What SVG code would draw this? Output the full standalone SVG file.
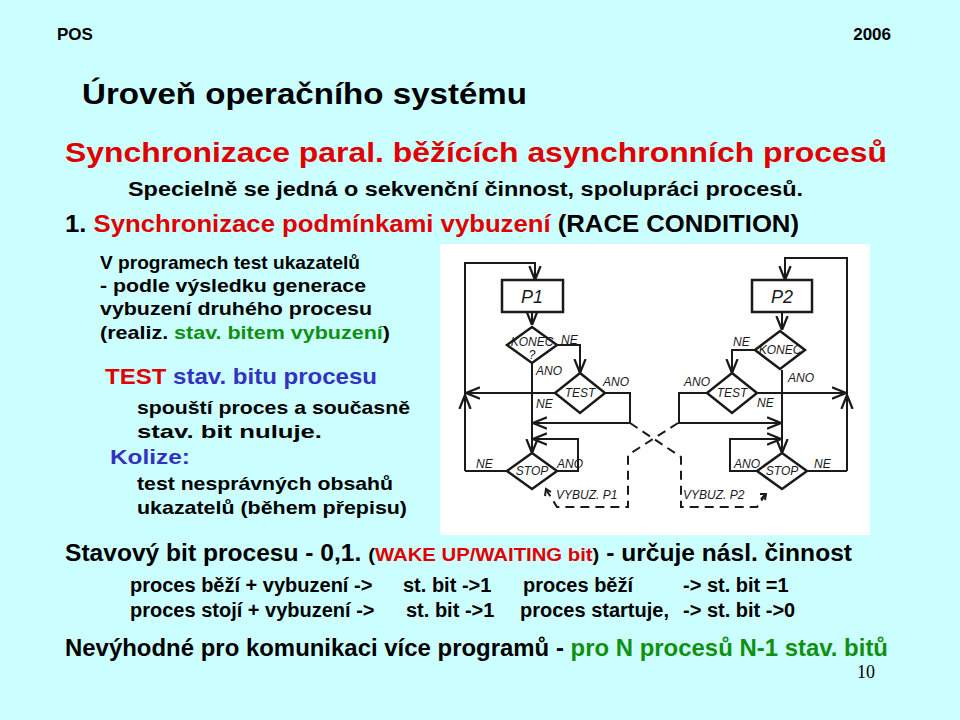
<svg xmlns="http://www.w3.org/2000/svg" width="960" height="720" viewBox="0 0 960 720">
<defs>
<style>
.t{font-family:"Liberation Sans",Arial,sans-serif;fill:#000;font-weight:bold}
.r{fill:#e00000}
.g{fill:#109010}
.bl{fill:#3333c0}
.ln{fill:none;stroke:#1a1a1a;stroke-width:2}
.ds{fill:none;stroke:#1a1a1a;stroke-width:2;stroke-dasharray:9,6}
.sh{fill:#fff;stroke:#1a1a1a;stroke-width:2.5}
.lb{font-family:"Liberation Sans",Arial,sans-serif;font-style:italic;font-size:12px;fill:#1a1a1a}
.nm{font-family:"Liberation Sans",Arial,sans-serif;font-style:italic;font-size:18px;fill:#1a1a1a}
</style>
<marker id="a" viewBox="0 0 10 10" refX="10" refY="5" markerWidth="7" markerHeight="7" orient="auto"><path d="M0,1 L10,5 L0,9" fill="none" stroke="#1a1a1a" stroke-width="1.6"/></marker>
</defs>
<rect width="960" height="720" fill="#ccffff"/>
<text class="t" x="57" y="40" font-size="17">POS</text>
<text class="t" x="891" y="40" font-size="17" text-anchor="end">2006</text>
<text class="t" x="82" y="104" font-size="30" textLength="445" lengthAdjust="spacingAndGlyphs">Úroveň operačního systému</text>
<text class="t r" x="65" y="162" font-size="28" textLength="822" lengthAdjust="spacingAndGlyphs">Synchronizace paral. běžících asynchronních procesů</text>
<text class="t" x="128" y="196" font-size="20" textLength="675" lengthAdjust="spacingAndGlyphs">Specielně se jedná o sekvenční činnost, spolupráci procesů.</text>
<text class="t" x="65" y="232" font-size="24" textLength="734" lengthAdjust="spacingAndGlyphs">1. <tspan class="r">Synchronizace podmínkami vybuzení</tspan> (RACE CONDITION)</text>
<g font-size="19">
<text class="t" x="100" y="269" textLength="260" lengthAdjust="spacingAndGlyphs">V programech test ukazatelů</text>
<text class="t" x="100" y="292" textLength="266" lengthAdjust="spacingAndGlyphs">- podle výsledku generace</text>
<text class="t" x="100" y="315" textLength="272" lengthAdjust="spacingAndGlyphs">vybuzení druhého procesu</text>
<text class="t" x="100" y="339" textLength="290" lengthAdjust="spacingAndGlyphs">(realiz. <tspan class="g">stav. bitem vybuzení</tspan>)</text>
</g>
<text class="t" x="105" y="384" font-size="22" textLength="272" lengthAdjust="spacingAndGlyphs"><tspan class="r">TEST</tspan> <tspan class="bl">stav. bitu procesu</tspan></text>
<text class="t" x="137" y="414" font-size="19" textLength="273" lengthAdjust="spacingAndGlyphs">spouští proces a současně</text>
<text class="t" x="137" y="438" font-size="19" textLength="185" lengthAdjust="spacingAndGlyphs">stav. bit nuluje.</text>
<text class="t bl" x="110" y="464" font-size="21" textLength="80" lengthAdjust="spacingAndGlyphs">Kolize:</text>
<text class="t" x="137" y="490" font-size="19" textLength="256" lengthAdjust="spacingAndGlyphs">test nesprávných obsahů</text>
<text class="t" x="137" y="514" font-size="19" textLength="270" lengthAdjust="spacingAndGlyphs">ukazatelů (během přepisu)</text>
<text class="t" x="65" y="561" font-size="23" textLength="787" lengthAdjust="spacingAndGlyphs">Stavový bit procesu - 0,1. <tspan font-size="19">(<tspan class="r">WAKE UP/WAITING bit</tspan>)</tspan> - určuje násl. činnost</text>
<g font-size="20">
<text class="t" x="130" y="592">proces běží + vybuzení -&gt;<tspan x="403">st. bit -&gt;1</tspan><tspan x="523">proces běží</tspan><tspan x="683">-&gt; st. bit =1</tspan></text>
<text class="t" x="130" y="617">proces stojí + vybuzení -&gt;<tspan x="406">st. bit -&gt;1</tspan><tspan x="520">proces startuje,</tspan><tspan x="683">-&gt; st. bit -&gt;0</tspan></text>
</g>
<text class="t" x="65" y="656" font-size="24" textLength="823" lengthAdjust="spacingAndGlyphs">Nevýhodné pro komunikaci více programů - <tspan class="g">pro N procesů N-1 stav. bitů</tspan></text>
<text x="875" y="678" font-family="Liberation Serif,serif" font-size="18" text-anchor="end">10</text>

<rect x="440" y="244" width="430" height="291" fill="#fff"/>
<g id="connectors">
<path class="ln" d="M465,471 V263 H535 V280" marker-end="url(#a)"/>
<path class="ln" d="M465,471 V395" marker-end="url(#a)"/>
<path class="ln" d="M555,393 H466" marker-end="url(#a)"/>
<path class="ln" d="M532,312 V325" marker-end="url(#a)"/>
<path class="ln" d="M557,345 H580 V373" marker-end="url(#a)"/>
<path class="ln" d="M532,363 V453" marker-end="url(#a)"/>
<path class="ln" d="M605,393 H630 V423 H533" marker-end="url(#a)"/>
<path class="ln" d="M557,471 H578 V439 H533" marker-end="url(#a)"/>
<path class="ln" d="M507,471 H465"/>
<path class="ln" d="M847,471 V258 H785 V280" marker-end="url(#a)"/>
<path class="ln" d="M847,471 V395" marker-end="url(#a)"/>
<path class="ln" d="M757,393 H846" marker-end="url(#a)"/>
<path class="ln" d="M782,312 V330" marker-end="url(#a)"/>
<path class="ln" d="M755,350 H732 V373" marker-end="url(#a)"/>
<path class="ln" d="M782,370 V453" marker-end="url(#a)"/>
<path class="ln" d="M707,393 H679 V423 H781" marker-end="url(#a)"/>
<path class="ln" d="M757,471 H730 V439 H781" marker-end="url(#a)"/>
<path class="ln" d="M807,471 H847"/>
<path class="ds" d="M630,423 L681,457 V507 H757 L765,495"/>
<path class="ds" d="M678,423 L628,455 V507 H557 L547,491"/>
<path class="ln" d="M761,499 L766,494 M760,494 L766,494 L765,500"/>
<path class="ln" d="M545,496 L546,489 L551,492"/>
</g>
<g id="p1"><rect class="sh" x="502" y="280" width="61" height="32"/><text class="nm" x="532" y="303" text-anchor="middle">P1</text></g>
<g id="konec1"><polygon class="sh" points="532,327 557,345 532,363 507,345"/><text class="lb" x="532" y="346" font-size="9" text-anchor="middle">KONEC</text><text class="lb" x="532" y="359" font-size="9" text-anchor="middle">?</text></g>
<g id="test1"><polygon class="sh" points="580,373 605,393 580,413 555,393"/><text class="lb" x="580" y="397" text-anchor="middle">TEST</text></g>
<g id="stop1"><polygon class="sh" points="532,453 557,471 532,489 507,471"/><text class="lb" x="532" y="475" font-size="11" text-anchor="middle">STOP</text></g>
<g id="p2"><rect class="sh" x="752" y="280" width="60" height="32"/><text class="nm" x="782" y="303" text-anchor="middle">P2</text></g>
<g id="konec2"><polygon class="sh" points="780,331 805,350 780,369 755,350"/><text class="lb" x="780" y="354" font-size="10" text-anchor="middle">KONEC</text></g>
<g id="test2"><polygon class="sh" points="732,373 757,393 732,413 707,393"/><text class="lb" x="732" y="397" text-anchor="middle">TEST</text></g>
<g id="stop2"><polygon class="sh" points="782,453 807,471 782,489 757,471"/><text class="lb" x="782" y="475" font-size="11" text-anchor="middle">STOP</text></g>
<g>
<text class="lb" x="561" y="344">NE</text>
<text class="lb" x="536" y="375">ANO</text>
<text class="lb" x="536" y="408">NE</text>
<text class="lb" x="603" y="386">ANO</text>
<text class="lb" x="557" y="468">ANO</text>
<text class="lb" x="476" y="468">NE</text>
<text class="lb" x="556" y="499">VYBUZ. P1</text>
<text class="lb" x="683" y="499">VYBUZ. P2</text>
<text class="lb" x="733" y="346">NE</text>
<text class="lb" x="788" y="382">ANO</text>
<text class="lb" x="684" y="386">ANO</text>
<text class="lb" x="757" y="407">NE</text>
<text class="lb" x="734" y="468">ANO</text>
<text class="lb" x="814" y="468">NE</text>
</g>
</svg>
